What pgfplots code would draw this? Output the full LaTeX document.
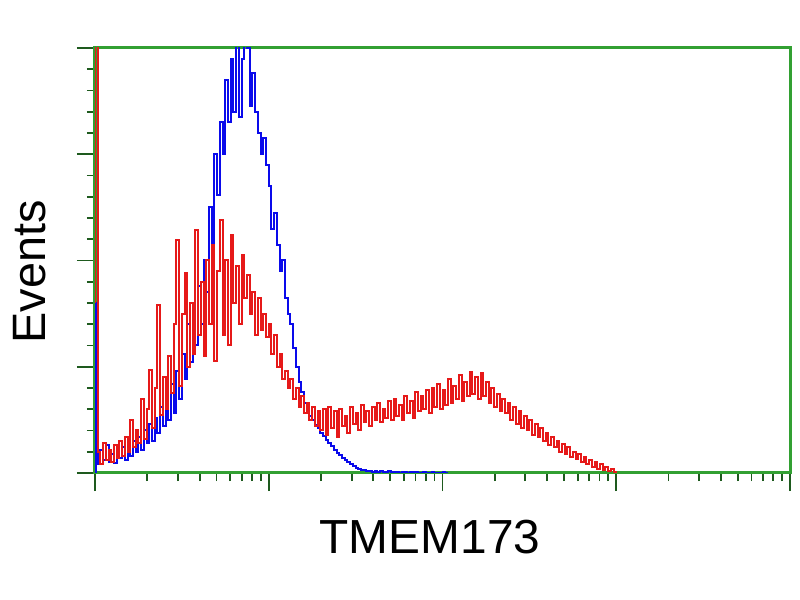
\documentclass[border=0pt]{standalone}
\usepackage{pgfplots}
\pgfplotsset{compat=1.18}
\usepackage{fontspec}
\setmainfont{Liberation Sans}
\definecolor{axgreen}{RGB}{50,160,50}
\definecolor{tickc}{RGB}{30,90,30}
\definecolor{hred}{RGB}{230,25,25}
\definecolor{hblue}{RGB}{10,10,235}
\begin{document}
\begin{tikzpicture}
\useasboundingbox (0,0) rectangle (800bp,600bp);
\begin{axis}[
  at={(95bp,127bp)}, anchor=south west,
  scale only axis, width=695bp, height=425bp,
  xmin=0, xmax=256, ymin=0, ymax=400,
  axis line style={draw=axgreen, line width=3bp},
  tick pos=left, tick align=outside,
  xtick={0,64,128,192,256},
  minor xtick={19.27,30.53,38.53,44.74,49.80,54.09,57.80,61.07,
               83.27,94.53,102.53,108.74,113.80,118.09,121.80,125.07,
               147.27,158.53,166.53,172.74,177.80,182.09,185.80,189.07,
               211.27,222.53,230.53,236.74,241.80,246.09,249.80,253.07},
  ytick={0,100,200,300,400}, minor y tick num=4,
  xticklabels={}, yticklabels={},
  major tick length=18bp, minor tick length=8bp,
  every tick/.style={draw=tickc, line width=1.8bp},
  clip=true,
]
\addplot[const plot mark left, hblue, line width=2bp] coordinates {
(0,0)(0,160)(1,8)(2,22)(3,12)(4,26)(5,10)(6,18)(7,9)(8,20)(9,14)
(10,24)(11,12)(12,28)(13,16)(14,30)(15,20)(16,34)(17,22)(18,40)(19,28)
(20,46)(21,30)(22,52)(23,38)(24,62)(25,44)(26,70)(27,50)(28,84)(29,56)
(30,96)(31,70)(32,112)(33,88)(34,140)(35,104)(36,150)(37,120)(38,176)(39,140)
(40,200)(41,170)(42,250)(43,210)(44,300)(45,262)(46,330)(47,300)(48,370)(49,330)
(50,390)(51,340)(52,420)(53,335)(54,390)(55,420)(56,400)(57,345)(58,376)(59,340)
(60,320)(61,300)(62,315)(63,290)(64,270)(65,230)(66,245)(67,215)(68,190)(69,200)
(70,165)(71,150)(72,140)(73,118)(74,100)(75,86)(76,76)(77,66)(78,60)(79,54)
(80,50)(81,45)(82,42)(83,38)(84,35)(85,31)(86,28)(87,25)(88,22)(89,19)
(90,17)(91,14)(92,12)(93,10)(94,8)(95,7)(96,5)(97,4)(98,3)(99,3)
(100,2)(101,2)(102,1)(103,2)(104,1)(105,2)(106,1)(107,1)(108,2)(109,1)
(110,1)(111,1)(112,0)(113,1)(114,1)(115,0)(116,1)(117,0)(118,1)(119,0)
(120,0)(121,1)(122,0)(123,0)(124,1)(125,0)(126,0)(127,0)(128,1)(129,0)
(130,0)
};
\addplot[const plot mark left, hred, line width=2bp] coordinates {
(0,0)(0,420)(1,20)(2,8)(3,28)(4,12)(5,22)(6,10)(7,26)(8,14)(9,30)
(10,16)(11,34)(12,20)(13,50)(14,24)(15,40)(16,28)(17,70)(18,32)(19,60)
(20,97)(21,42)(22,80)(23,158)(24,55)(25,90)(26,60)(27,110)(28,75)(29,140)
(30,219)(31,82)(32,150)(33,188)(34,100)(35,160)(36,112)(37,229)(38,130)(39,180)
(40,110)(41,200)(42,140)(43,215)(44,105)(45,190)(46,238)(47,130)(48,200)(49,120)
(50,224)(51,160)(52,195)(53,140)(54,205)(55,165)(56,186)(57,150)(58,170)(59,130)
(60,165)(61,135)(62,150)(63,128)(64,140)(65,112)(66,130)(67,100)(68,112)(69,88)
(70,96)(71,80)(72,88)(73,70)(74,80)(75,62)(76,72)(77,56)(78,66)(79,50)
(80,62)(81,44)(82,58)(83,40)(84,60)(85,36)(86,62)(87,42)(88,58)(89,34)
(90,60)(91,44)(92,54)(93,38)(94,62)(95,46)(96,56)(97,40)(98,64)(99,48)
(100,58)(101,44)(102,62)(103,50)(104,66)(105,48)(106,60)(107,52)(108,68)(109,50)
(110,70)(111,54)(112,64)(113,50)(114,72)(115,56)(116,68)(117,52)(118,76)(119,58)
(120,72)(121,60)(122,78)(123,56)(124,80)(125,62)(126,84)(127,60)(128,78)(129,64)
(130,88)(131,66)(132,82)(133,70)(134,92)(135,68)(136,86)(137,72)(138,95)(139,74)
(140,90)(141,70)(142,94)(143,72)(144,86)(145,66)(146,80)(147,62)(148,74)(149,58)
(150,70)(151,56)(152,66)(153,50)(154,62)(155,46)(156,58)(157,42)(158,54)(159,40)
(160,50)(161,36)(162,46)(163,34)(164,42)(165,30)(166,38)(167,26)(168,34)(169,24)
(170,30)(171,20)(172,27)(173,18)(174,24)(175,15)(176,20)(177,13)(178,18)(179,10)
(180,15)(181,8)(182,12)(183,6)(184,10)(185,4)(186,8)(187,3)(188,6)(189,2)
(190,4)(191,1)(192,0)
};
\addplot[hblue, line width=2.2bp] coordinates {(0.45,0)(0.45,160)};
\end{axis}
\node[rotate=90, font=\fontsize{47}{54}\selectfont] at (30bp,328bp) {Events};
\node[font=\fontsize{48}{56}\selectfont] at (430bp,63bp) {TMEM173};
\end{tikzpicture}
\end{document}
